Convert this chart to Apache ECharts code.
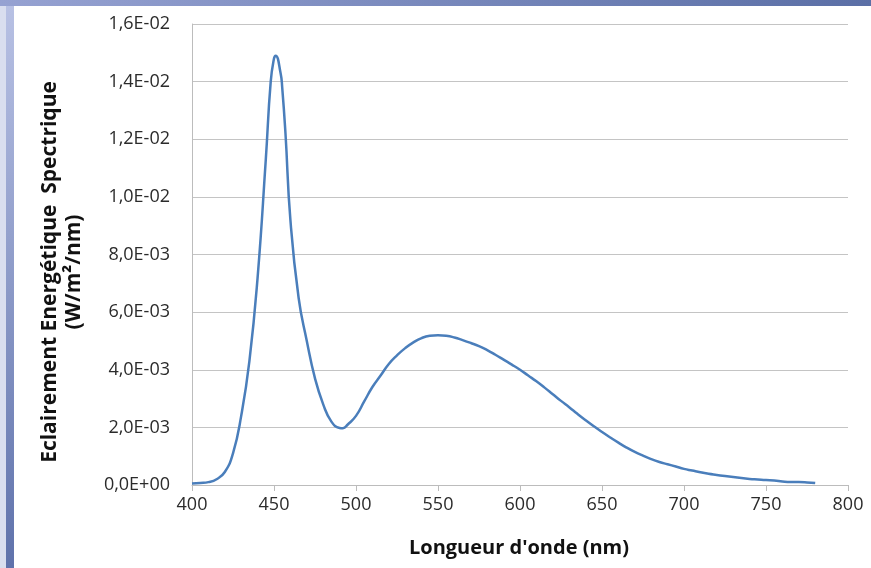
<!DOCTYPE html>
<html>
<head>
<meta charset="utf-8">
<script src="https://cdn.jsdelivr.net/npm/echarts@6/dist/echarts.min.js"></script>
<style>
  html, body { margin: 0; padding: 0; background: #fff; }
  #chart { width: 871px; height: 568px; }
</style>
</head>
<body>
<div id="chart"></div>
<script>
// wavelength (nm) and spectral irradiance (W/m2/nm)
const wavelengths = [400, 405, 410, 415, 420, 425, 430, 435, 440, 445, 448, 450, 451, 454, 455, 457,
  460, 465, 470, 475, 480, 485, 490, 492, 495, 500, 505, 510, 515, 520, 525, 530, 535, 540,
  545, 550, 555, 560, 565, 570, 575, 580, 585, 590, 595, 600, 605, 610, 615, 620, 625, 630,
  635, 640, 645, 650, 655, 660, 665, 670, 675, 680, 685, 690, 695, 700, 705, 710, 715, 720,
  725, 730, 735, 740, 745, 750, 755, 760, 765, 770, 775, 780]
const irradiance = [0.00005, 0.00007, 0.0001, 0.0002, 0.00045, 0.0011, 0.0024, 0.0043, 0.0072, 0.0113, 0.014, 0.0148, 0.0149, 0.0143, 0.0138, 0.0122,
  0.0092, 0.0065, 0.005, 0.0037, 0.0028, 0.0022, 0.00198, 0.00197, 0.0021, 0.0024, 0.0029, 0.0034, 0.0038, 0.0042, 0.0045, 0.00475, 0.00495, 0.0051,
  0.00518, 0.0052, 0.00518, 0.00512, 0.00503, 0.00493, 0.00482, 0.00468, 0.00452, 0.00435, 0.00418, 0.004, 0.0038, 0.0036, 0.00338, 0.00315, 0.00292, 0.0027,
  0.00247, 0.00225, 0.00204, 0.00184, 0.00165, 0.00147, 0.0013, 0.00115, 0.00102, 0.0009, 0.0008, 0.00072, 0.00064, 0.00056, 0.0005, 0.00044, 0.00039, 0.00035,
  0.00031, 0.00028, 0.00024, 0.00021, 0.00019, 0.00017, 0.00016, 0.00012, 0.0001, 0.0001, 0.00009, 0.00007]

const xTitle = "Longueur d'onde (nm)"
const yTitle = 'Eclairement Energétique  Spectrique\n(W/m²/nm)'

// 0.016 -> "1,6E-02"
const sciLabel = (v) => {
  if (v === 0) return '0,0E+00'
  const exp = Math.floor(Math.log10(Math.abs(v)) + 1e-9)
  const mant = (v / Math.pow(10, exp)).toFixed(1).replace('.', ',')
  const sign = exp < 0 ? '-' : '+'
  return mant + 'E' + sign + String(Math.abs(exp)).padStart(2, '0')
}

const chart = echarts.init(document.getElementById('chart'))

const labelFont = "'Open Sans', sans-serif"

const option = {
  animation: false,
  backgroundColor: '#ffffff',
  grid: { left: 192, right: 23, top: 24, bottom: 83, containLabel: false },
  xAxis: {
    type: 'value',
    min: 400,
    max: 800,
    interval: 50,
    axisLine: { show: true, lineStyle: { color: '#bcbcbc', width: 1 } },
    axisTick: { show: true, length: 6, lineStyle: { color: '#bcbcbc' } },
    axisLabel: { color: '#2b2b2b', fontSize: 18, fontFamily: labelFont, margin: 11 },
    splitLine: { show: false },
  },
  yAxis: {
    type: 'value',
    min: 0,
    max: 0.016,
    interval: 0.002,
    axisLine: { show: true, lineStyle: { color: '#bcbcbc', width: 1 } },
    axisTick: { show: false },
    axisLabel: { color: '#2b2b2b', fontSize: 18, fontFamily: labelFont, margin: 22, formatter: sciLabel },
    splitLine: { show: true, lineStyle: { color: '#c4c4c4', width: 1 } },
  },
  graphic: [
    {
      type: 'rect', silent: true,
      shape: { x: 0, y: 0, width: 871, height: 6 },
      style: { fill: new echarts.graphic.LinearGradient(0, 0, 1, 0, [
        { offset: 0, color: '#96a2d2' }, { offset: 1, color: '#5b6fa6' }]) },
    },
    {
      type: 'rect', silent: true,
      shape: { x: 0, y: 6, width: 6, height: 562 },
      style: { fill: '#d9deef' },
    },
    {
      type: 'rect', silent: true,
      shape: { x: 6, y: 6, width: 8, height: 562 },
      style: { fill: new echarts.graphic.LinearGradient(0, 0, 0, 1, [
        { offset: 0, color: '#b8c1e4' }, { offset: 1, color: '#5f72ab' }]) },
    },
    {
      type: 'text', silent: true,
      x: 62, y: 272, rotation: Math.PI / 2,
      style: {
        text: yTitle, fontSize: 21, fontWeight: 'bold', fontFamily: labelFont,
        fill: '#111', align: 'center', verticalAlign: 'middle', lineHeight: 24,
      },
    },
    {
      type: 'text', silent: true,
      x: 519, y: 548,
      style: {
        text: xTitle, fontSize: 20, fontWeight: 'bold', fontFamily: labelFont,
        fill: '#111', align: 'center', verticalAlign: 'middle',
      },
    },
  ],
  series: [
    {
      type: 'line',
      data: wavelengths.map((w, i) => [w, irradiance[i]]),
      smooth: 0.5,
      showSymbol: false,
      lineStyle: { color: '#4a7ebb', width: 2.5 },
    },
  ],
}

chart.setOption(option)
</script>
</body>
</html>
